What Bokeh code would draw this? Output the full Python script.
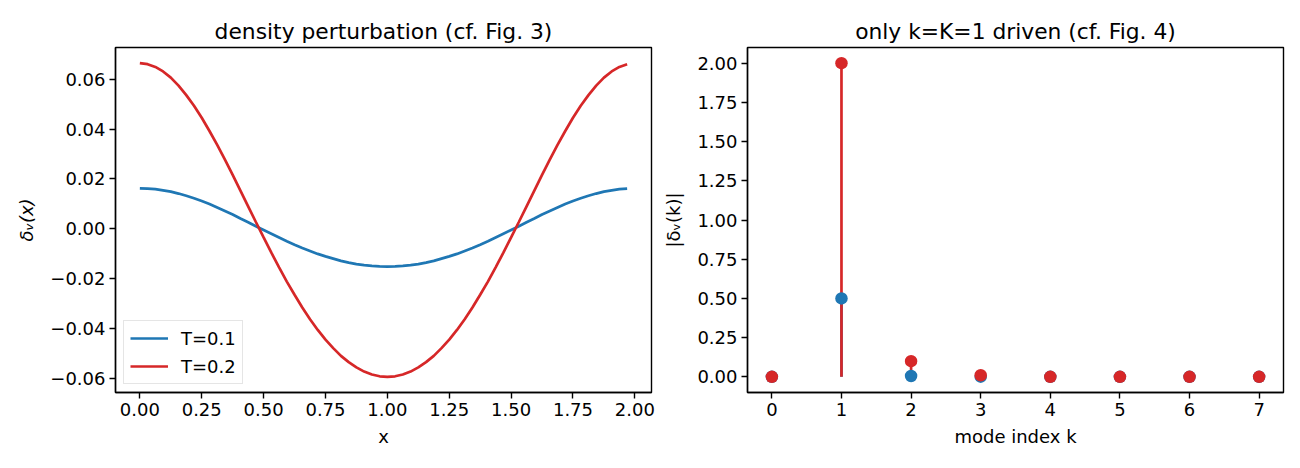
from bokeh.plotting import figure
from bokeh.layouts import row
from bokeh.models import FixedTicker, Range1d, Legend
from bokeh.embed import file_html
from bokeh.resources import INLINE

# ---- data: left panel (density perturbation) ----
x_vals = [0.0, 0.03125, 0.0625, 0.09375, 0.125, 0.15625, 0.1875, 0.21875,
          0.25, 0.28125, 0.3125, 0.34375, 0.375, 0.40625, 0.4375, 0.46875,
          0.5, 0.53125, 0.5625, 0.59375, 0.625, 0.65625, 0.6875, 0.71875,
          0.75, 0.78125, 0.8125, 0.84375, 0.875, 0.90625, 0.9375, 0.96875,
          1.0, 1.03125, 1.0625, 1.09375, 1.125, 1.15625, 1.1875, 1.21875,
          1.25, 1.28125, 1.3125, 1.34375, 1.375, 1.40625, 1.4375, 1.46875,
          1.5, 1.53125, 1.5625, 1.59375, 1.625, 1.65625, 1.6875, 1.71875,
          1.75, 1.78125, 1.8125, 1.84375, 1.875, 1.90625, 1.9375, 1.96875]
delta_T01 = [0.0162, 0.0161, 0.0159, 0.0154, 0.0149, 0.0141, 0.0132, 0.0122,
             0.0111, 0.0099, 0.0085, 0.0071, 0.0057, 0.0041, 0.0026, 0.0010,
             -0.0005, -0.0020, -0.0035, -0.0050, -0.0064, -0.0077, -0.0089, -0.0101,
             -0.0111, -0.0120, -0.0129, -0.0136, -0.0142, -0.0146, -0.0149, -0.0151,
             -0.0152, -0.0151, -0.0149, -0.0146, -0.0142, -0.0136, -0.0129, -0.0120,
             -0.0111, -0.0101, -0.0089, -0.0077, -0.0064, -0.0050, -0.0035, -0.0020,
             -0.0005, 0.0010, 0.0026, 0.0041, 0.0057, 0.0071, 0.0085, 0.0099,
             0.0111, 0.0122, 0.0132, 0.0141, 0.0149, 0.0154, 0.0159, 0.0161]
delta_T02 = [0.0664, 0.0660, 0.0649, 0.0631, 0.0606, 0.0574, 0.0536, 0.0493,
             0.0445, 0.0392, 0.0336, 0.0277, 0.0216, 0.0153, 0.0090, 0.0027,
             -0.0035, -0.0096, -0.0155, -0.0212, -0.0265, -0.0316, -0.0363, -0.0406,
             -0.0445, -0.0479, -0.0510, -0.0535, -0.0556, -0.0573, -0.0585, -0.0592,
             -0.0594, -0.0592, -0.0585, -0.0573, -0.0556, -0.0535, -0.0510, -0.0479,
             -0.0445, -0.0406, -0.0363, -0.0316, -0.0265, -0.0212, -0.0155, -0.0096,
             -0.0035, 0.0027, 0.0090, 0.0153, 0.0216, 0.0277, 0.0336, 0.0392,
             0.0445, 0.0493, 0.0536, 0.0574, 0.0606, 0.0631, 0.0649, 0.0660]
series_labels = ["T=0.1", "T=0.2"]

left_xticks = [0.0, 0.25, 0.5, 0.75, 1.0, 1.25, 1.5, 1.75, 2.0]
left_xtick_labels = ["0.00", "0.25", "0.50", "0.75", "1.00", "1.25", "1.50", "1.75", "2.00"]
left_yticks = [-0.06, -0.04, -0.02, 0.0, 0.02, 0.04, 0.06]
left_ytick_labels = ["\u22120.06", "\u22120.04", "\u22120.02", "0.00", "0.02", "0.04", "0.06"]

# ---- data: right panel (mode amplitudes) ----
modes = [0, 1, 2, 3, 4, 5, 6, 7]
amp_T01 = [0.0, 0.5, 0.005, 0.001, 0.0, 0.0, 0.0, 0.0]
amp_T02 = [0.0, 2.0, 0.10, 0.010, 0.0, 0.0, 0.0, 0.0]
right_xticks = [0, 1, 2, 3, 4, 5, 6, 7]
right_xtick_labels = ["0", "1", "2", "3", "4", "5", "6", "7"]
right_yticks = [0.0, 0.25, 0.5, 0.75, 1.0, 1.25, 1.5, 1.75, 2.0]
right_ytick_labels = ["0.00", "0.25", "0.50", "0.75", "1.00", "1.25", "1.50", "1.75", "2.00"]

BLUE = "#1f77b4"
RED = "#d62728"
FONT = "DejaVu Sans"
TICK_FS = "18px"
TITLE_FS = "21.8px"


def style(p, xt, xl, yt, yl):
    p.xgrid.grid_line_color = None
    p.ygrid.grid_line_color = None
    p.outline_line_color = "black"
    p.outline_line_width = 1.4
    p.title.align = "center"
    p.title.text_font = FONT
    p.title.text_font_size = TITLE_FS
    p.title.text_font_style = "normal"
    p.title.text_color = "black"
    p.title.standoff = 7
    for ax, ticks, labels in ((p.xaxis[0], xt, xl), (p.yaxis[0], yt, yl)):
        ax.ticker = FixedTicker(ticks=ticks)
        ax.major_label_overrides = {float(t): s for t, s in zip(ticks, labels)}
        ax.minor_tick_line_color = None
        ax.major_tick_out = 6
        ax.major_tick_in = 0
        ax.major_tick_line_width = 1.4
        ax.axis_line_width = 1.4
        ax.major_label_text_font = FONT
        ax.major_label_text_font_size = TICK_FS
        ax.major_label_text_color = "black"
        ax.axis_label_text_font = FONT
        ax.axis_label_text_font_size = TICK_FS
        ax.axis_label_text_font_style = "normal"
        ax.axis_label_text_color = "black"
        ax.major_label_standoff = 4
    p.background_fill_color = "white"
    p.border_fill_color = "white"


# ---- left figure ----
p1 = figure(frame_width=536, frame_height=345,
            min_border_left=115, min_border_right=9, min_border_top=47, min_border_bottom=76,
            x_range=Range1d(-0.0984, 2.0672), y_range=Range1d(-0.0657, 0.0727),
            title="density perturbation (cf. Fig. 3)",
            output_backend="svg", toolbar_location=None)
r1 = p1.line(x_vals, delta_T01, line_color=BLUE, line_width=2.7)
r2 = p1.line(x_vals, delta_T02, line_color=RED, line_width=2.7)
p1.xaxis.axis_label = "x"
p1.yaxis.axis_label = "\u03b4\u1d65(x)"
style(p1, left_xticks, left_xtick_labels, left_yticks, left_ytick_labels)
p1.yaxis.axis_label_text_font_style = "italic"
p1.yaxis.axis_label_standoff = 10
p1.xaxis.axis_label_standoff = 7

legend = Legend(items=[(series_labels[0], [r1]), (series_labels[1], [r2])],
                location="bottom_left")
legend.margin = 8
legend.padding = 6
legend.spacing = 6
legend.glyph_width = 38
legend.glyph_height = 22
legend.label_height = 22
legend.label_standoff = 13
legend.label_text_font = FONT
legend.label_text_font_size = TICK_FS
legend.label_text_color = "black"
legend.border_line_color = "#cccccc"
legend.border_line_width = 1.2
legend.background_fill_alpha = 0.8
p1.add_layout(legend, "center")

# ---- right figure ----
p2 = figure(frame_width=536, frame_height=345,
            min_border_left=87, min_border_right=17, min_border_top=47, min_border_bottom=76,
            x_range=Range1d(-0.35, 7.35), y_range=Range1d(-0.1, 2.1),
            title="only k=K=1 driven (cf. Fig. 4)",
            output_backend="svg", toolbar_location=None)
zeros = [0.0] * len(modes)
p2.segment(modes, zeros, modes, amp_T01, line_color=BLUE, line_width=2.7)
p2.segment(modes, zeros, modes, amp_T02, line_color=RED, line_width=2.7)
p2.scatter(modes, amp_T01, size=12.5, fill_color=BLUE, line_color=None)
p2.scatter(modes, amp_T02, size=12.5, fill_color=RED, line_color=None)
p2.xaxis.axis_label = "mode index k"
p2.yaxis.axis_label = "|\u03b4\u1d65(k)|"
style(p2, right_xticks, right_xtick_labels, right_yticks, right_ytick_labels)
p2.yaxis.axis_label_standoff = 10
p2.xaxis.axis_label_standoff = 7

layout = row(p1, p2)
open("out.html", "w").write(file_html(layout, INLINE))
